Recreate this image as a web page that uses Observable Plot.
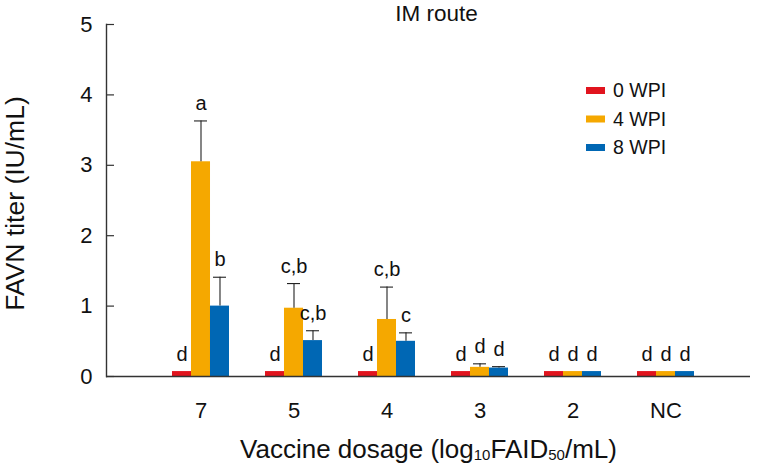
<!DOCTYPE html>
<html><head><meta charset="utf-8">
<script src="https://cdn.jsdelivr.net/npm/d3@7"></script>
<script src="https://cdn.jsdelivr.net/npm/@observablehq/plot@0.6"></script>
<style>
html,body{margin:0;padding:0;background:#fff}
#chart svg{display:block}
</style>
</head><body><div id="chart"></div>
<script>
// ---- data ----
const dosages = ["7", "5", "4", "3", "2", "NC"];
const series = ["0 WPI", "4 WPI", "8 WPI"];
const colors = ["#e1141e", "#f5a800", "#0067b4"];
const wpi0 = [0.07, 0.07, 0.07, 0.07, 0.07, 0.07];
const wpi4 = [3.05, 0.97, 0.81, 0.13, 0.07, 0.07];
const wpi8 = [1.00, 0.51, 0.50, 0.12, 0.07, 0.07];
const err0 = [0, 0, 0, 0, 0, 0];
const err4 = [0.58, 0.35, 0.46, 0.05, 0, 0];
const err8 = [0.41, 0.14, 0.12, 0.02, 0, 0];
const letters0 = ["d", "d", "d", "d", "d", "d"];
const letters4 = ["a", "c,b", "c,b", "d", "d", "d"];
const letters8 = ["b", "c,b", "c", "d", "d", "d"];
const yTicks = [0, 1, 2, 3, 4, 5];
const title = "IM route";
const yLabel = "FAVN titer (IU/mL)";
const xLabel = "Vaccine dosage (log10FAID50/mL)";

// ---- layout ----
const W = 764, H = 470;
const mL = 106, mR = 14, mT = 24, mB = 94;
const frameW = W - mL - mR;
const xRange = [152.8, 713.2], pIn = 0.39, pOut = 0.195;
const step = (xRange[1] - xRange[0]) / (dosages.length - pIn + 2 * pOut);
const bw = step * (1 - pIn);
const third = bw / 3;
const capHalf = 6.5;
const axisColor = "#333";

const vals = [wpi0, wpi4, wpi8], errs = [err0, err4, err8], lets = [letters0, letters4, letters8];
const rowsBy = series.map((s, k) => dosages.map((d, i) => ({
  dosage: d, series: s, value: vals[k][i], err: errs[k][i], letter: lets[k][i],
  top: vals[k][i] + errs[k][i]
})));

const marks = [];
series.forEach((s, k) => {
  const rows = rowsBy[k];
  marks.push(Plot.barY(rows, {x: "dosage", y: "value", fill: "series",
    insetLeft: k * third, insetRight: (2 - k) * third}));
  const er = rows.filter(r => r.err > 0);
  marks.push(Plot.ruleX(er, {x: "dosage", y1: "value", y2: "top", dx: (k - 1) * third,
    stroke: "#222", strokeWidth: 1.1}));
  const c = k * third + third / 2;
  marks.push(Plot.tickY(er, {x: "dosage", y: "top", insetLeft: c - capHalf, insetRight: bw - c - capHalf,
    stroke: "#222", strokeWidth: 1.1}));
  marks.push(Plot.text(rows, {x: "dosage", y: "top", text: "letter", dx: (k - 1) * third, dy: -11,
    lineAnchor: "bottom", fontSize: 20, fill: "#111"}));
});

marks.push(
  Plot.ruleY(yTicks, {y: d => d, insetRight: frameW - 8, stroke: axisColor, strokeWidth: 1.2}),
  Plot.ruleY([0], {stroke: axisColor, strokeWidth: 1.4}),
  Plot.frame({anchor: "left", stroke: axisColor, strokeWidth: 1.4}),
  Plot.axisY(yTicks, {tickSize: 0, tickPadding: 14, fontSize: 22, label: null, tickFormat: d => String(d)}),
  Plot.axisX({tickSize: 0, tickPadding: 25.5, fontSize: 22, label: null}),
  Plot.text([yLabel], {text: d => d, frameAnchor: "left", rotate: -90, textAnchor: "middle",
    dx: -83, dy: 3, lineAnchor: "bottom", fontSize: 26.5}),
  Plot.text([xLabel], {text: d => d, frameAnchor: "bottom", textAnchor: "middle", dy: 81, lineAnchor: "bottom", fontSize: 26}),
  Plot.text([title], {text: d => d, frameAnchor: "top", textAnchor: "middle", dx: 8, dy: -4, lineAnchor: "bottom", fontSize: 22.5})
);

const svg = Plot.plot({
  width: W, height: H,
  marginLeft: mL, marginRight: mR, marginTop: mT, marginBottom: mB,
  style: {fontFamily: "'Liberation Sans', Arial, sans-serif", color: "#111", background: "#fff"},
  x: {type: "band", domain: dosages, range: xRange, paddingInner: pIn, paddingOuter: pOut},
  y: {domain: [0, 5]},
  color: {domain: series, range: colors},
  marks
});

// subscripts in x label
d3.select(svg).selectAll("text").filter(function () { return this.textContent === xLabel; })
  .each(function () {
    const t = d3.select(this);
    t.text(null);
    const parts = [["Vaccine dosage (log", false], ["10", true], ["FAID", false], ["50", true], ["/mL)", false]];
    parts.forEach(([s, sub], i) => {
      const ts = t.append("tspan").text(s);
      if (sub) ts.attr("font-size", 15).attr("dy", 2);
      else if (i > 0) ts.attr("dy", -2);
    });
  });

// legend
const lg = d3.select(svg).append("g").attr("transform", "translate(586,87)");
series.forEach((s, k) => {
  const g = lg.append("g").attr("transform", `translate(0,${k * 28.5})`);
  g.append("rect").attr("width", 19).attr("height", 7).attr("fill", colors[k]);
  g.append("text").attr("x", 27).attr("y", 3.5).attr("dy", "0.35em")
    .attr("text-anchor", "start").attr("font-size", 19.5).attr("fill", "#111").text(s);
});

document.getElementById("chart").appendChild(svg);
</script>
</body></html>
